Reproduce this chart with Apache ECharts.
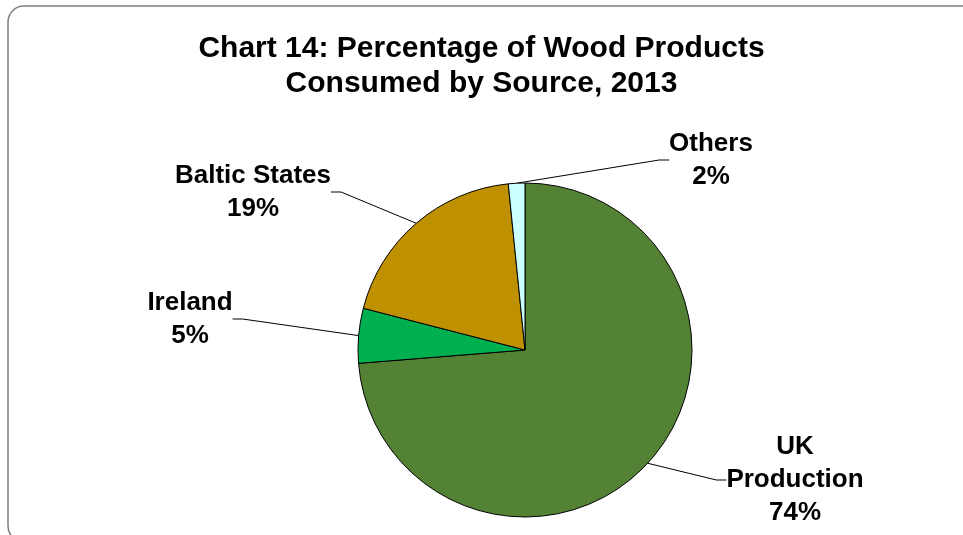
<!DOCTYPE html>
<html>
<head>
<meta charset="utf-8">
<script src="https://cdn.jsdelivr.net/npm/echarts@6/dist/echarts.min.js"></script>
<style>
  html, body { margin: 0; padding: 0; background: #fff; }
  #chart { width: 963px; height: 535px; }
</style>
</head>
<body>
<div id="chart"></div>
<script>
const sources = ["UK Production", "Ireland", "Baltic States", "Others"];
const shares = [73.8, 5.3, 19.4, 1.6];
const colors = ["#548235", "#00B050", "#BF9000", "#CCFFFF"];

// where each label sits (centre of text block)
const labelSpots = [[795, 480], [190, 319], [253, 192], [711, 160]];

const chart = echarts.init(document.getElementById("chart"));

const option = {
  backgroundColor: "#fff",
  animation: false,
  graphic: [{
    type: "rect",
    shape: { x: 8, y: 6, width: 1000, height: 536, r: 16 },
    style: { fill: "none", stroke: "#7f7f7f", lineWidth: 1.5 }
  }],
  title: {
    text: "Chart 14: Percentage of Wood Products\nConsumed by Source, 2013",
    left: "center",
    top: 26,
    textStyle: {
      fontFamily: "Liberation Sans, Arial, sans-serif",
      fontSize: 30,
      fontWeight: "bold",
      color: "#000",
      lineHeight: 35
    }
  },
  series: [{
    type: "pie",
    center: [525, 350],
    radius: 167,
    startAngle: 90,
    clockwise: true,
    percentPrecision: 0,
    data: sources.map((s, i) => ({
      name: s,
      value: shares[i],
      itemStyle: { color: colors[i] }
    })),
    itemStyle: { borderColor: "#000", borderWidth: 1 },
    label: {
      show: true,
      formatter: p => (p.name === "UK Production" ? "UK\nProduction" : p.name) + "\n" + Math.round(p.percent) + "%",
      fontFamily: "Liberation Sans, Arial, sans-serif",
      fontSize: 26,
      fontWeight: "bold",
      color: "#000",
      lineHeight: 33,
      align: "center"
    },
    labelLine: {
      show: true,
      length: 20,
      length2: 10,
      lineStyle: { color: "#000", width: 1 }
    },
    labelLayout: p => ({
      x: labelSpots[p.dataIndex][0],
      y: labelSpots[p.dataIndex][1],
      align: "center",
      verticalAlign: "middle"
    }),
    emphasis: { disabled: true }
  }]
};

chart.setOption(option);
</script>
</body>
</html>
